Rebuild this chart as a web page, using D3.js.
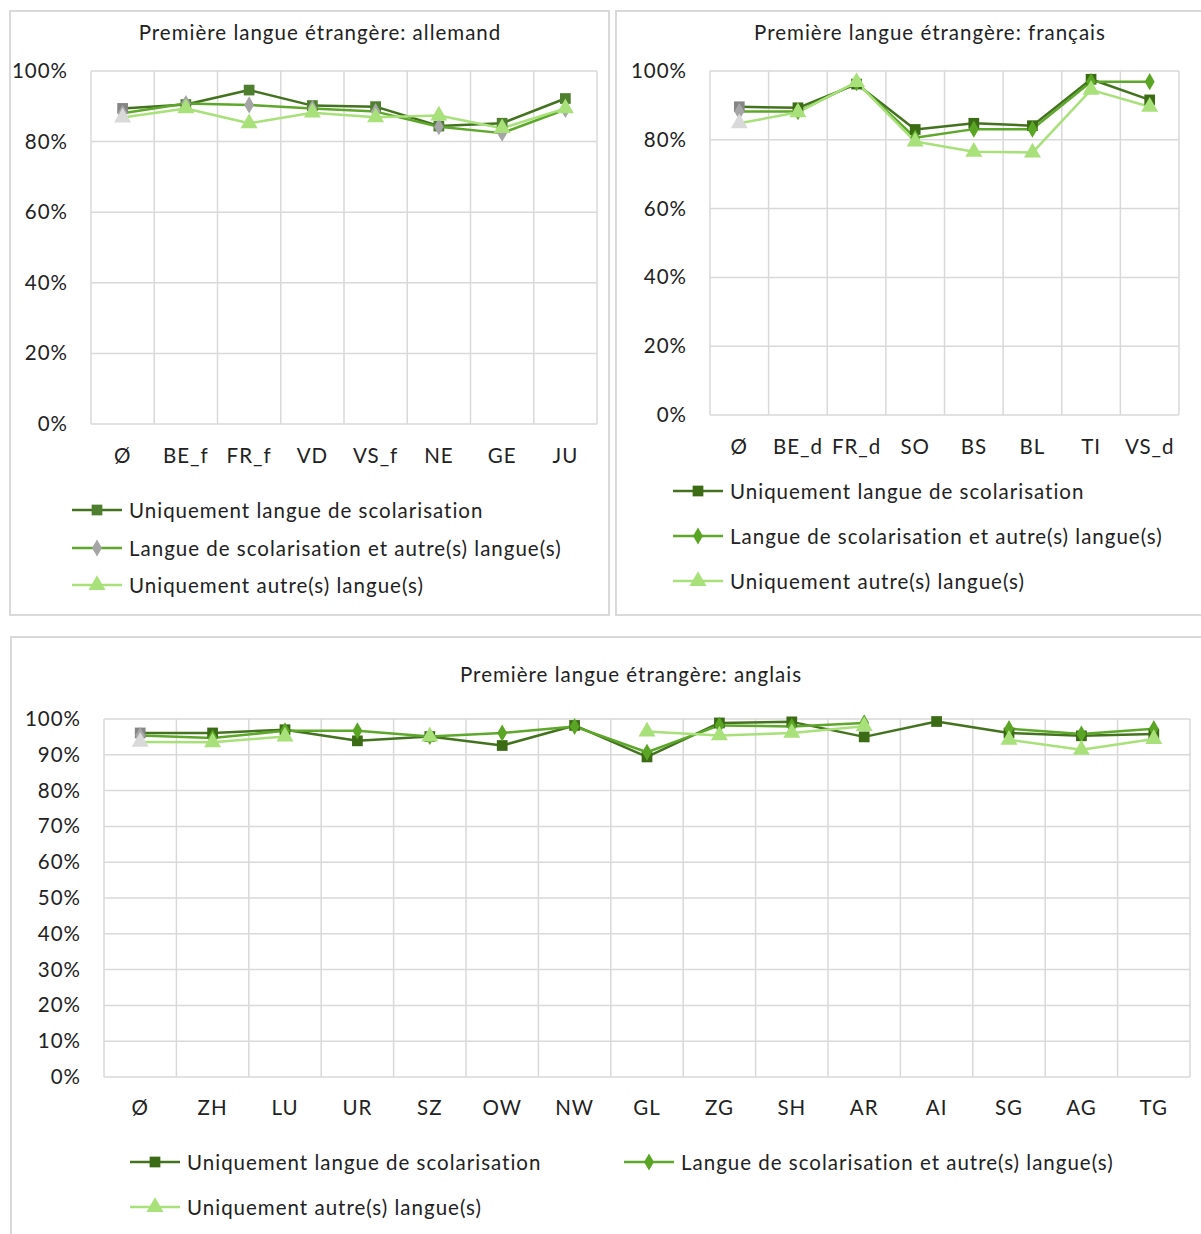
<!DOCTYPE html>
<html>
<head>
<meta charset="utf-8">
<script src="https://cdn.jsdelivr.net/npm/d3@7"></script>
<style>
  html, body { margin: 0; padding: 0; background: #ffffff; }
  svg { display: block; }
  text { font-family: Lato, "Noto Sans", sans-serif; fill: #222222; letter-spacing: 1px; }
</style>
</head>
<body>
<svg id="chart" width="1201" height="1234"></svg>
<script>
// Legend entries shared by the three panels
const seriesNames = [
  "Uniquement langue de scolarisation",
  "Langue de scolarisation et autre(s) langue(s)",
  "Uniquement autre(s) langue(s)"
];

// Panel 1 – first foreign language: German
const titleDe = "Première langue étrangère: allemand";
const cantonsDe = ["Ø", "BE_f", "FR_f", "VD", "VS_f", "NE", "GE", "JU"];
const deOnlySchool = [89.4, 90.5, 94.6, 90.2, 89.9, 84.4, 85.2, 92.2];
const deSchoolOther = [88.0, 90.8, 90.4, 89.4, 88.5, 84.2, 82.4, 89.1];
const deOnlyOther = [86.8, 89.4, 85.2, 88.2, 86.9, 87.4, 83.8, 89.4];
const ticksDe = [0, 20, 40, 60, 80, 100];

// Panel 2 – first foreign language: French
const titleFr = "Première langue étrangère: français";
const cantonsFr = ["Ø", "BE_d", "FR_d", "SO", "BS", "BL", "TI", "VS_d"];
const frOnlySchool = [89.6, 89.3, 96.2, 83.0, 84.8, 84.1, 97.6, 91.6];
const frSchoolOther = [88.2, 88.2, 96.6, 80.6, 83.1, 83.1, 96.9, 96.9];
const frOnlyOther = [84.8, 88.0, 96.8, 79.5, 76.5, 76.3, 94.5, 89.6];
const ticksFr = [0, 20, 40, 60, 80, 100];

// Panel 3 – first foreign language: English (null = no value)
const titleEn = "Première langue étrangère: anglais";
const cantonsEn = ["Ø", "ZH", "LU", "UR", "SZ", "OW", "NW", "GL", "ZG", "SH", "AR", "AI", "SG", "AG", "TG"];
const enOnlySchool = [96.1, 96.1, 97.0, 93.9, 95.1, 92.6, 98.2, 89.4, 98.9, 99.2, 95.0, 99.3, 96.1, 95.3, 95.8];
const enSchoolOther = [95.4, 94.7, 96.7, 96.7, 95.1, 96.1, 97.9, 90.7, 98.2, 97.9, 98.9, null, 97.3, 95.8, 97.3];
const enOnlyOther = [93.6, 93.5, 95.1, null, 95.1, null, null, 96.5, 95.4, 96.1, 98.0, null, 94.2, 91.4, 94.4];
const ticksEn = [0, 10, 20, 30, 40, 50, 60, 70, 80, 90, 100];

const svg = d3.select("#chart");
const GRID = "#d9d9d9";
const FONT_SIZE = "20.5px";
const LINE_COLORS = ["#43731f", "#5da82a", "#a8e07a"];
const MARKER_TYPES = [d3.symbolSquare, d3.symbolDiamond, d3.symbolTriangle];
const MARKER_SIZES = [115, 85, 125];
const AVG_COLORS = ["#858585", "#a5a5a5", "#d9d9d9"];

function drawPanel(cfg) {
  const g = svg.append("g");

  // panel frame
  g.append("rect")
    .attr("x", cfg.frame[0]).attr("y", cfg.frame[1])
    .attr("width", cfg.frame[2]).attr("height", cfg.frame[3])
    .attr("fill", "none").attr("stroke", GRID).attr("stroke-width", 2);

  g.append("text")
    .attr("x", cfg.titleX).attr("y", cfg.titleY)
    .attr("text-anchor", "middle").attr("dominant-baseline", "central")
    .style("font-size", FONT_SIZE)
    .text(cfg.title);

  const x = d3.scaleBand().domain(cfg.categories).range([cfg.plot[0], cfg.plot[1]]);
  const y = d3.scaleLinear().domain([0, 100]).range([cfg.plot[3], cfg.plot[2]]);

  // horizontal gridlines
  g.append("g").selectAll("line").data(cfg.ticks).join("line")
    .attr("x1", cfg.plot[0]).attr("x2", cfg.plot[1])
    .attr("y1", d => y(d)).attr("y2", d => y(d))
    .attr("stroke", GRID).attr("stroke-width", 1.5);

  // vertical gridlines at category boundaries
  const bounds = cfg.categories.map(c => x(c)).concat([x.range()[1]]);
  g.append("g").selectAll("line").data(bounds).join("line")
    .attr("x1", d => d).attr("x2", d => d)
    .attr("y1", cfg.plot[2]).attr("y2", cfg.plot[3])
    .attr("stroke", GRID).attr("stroke-width", 1.5);

  // y axis labels
  const yAxis = d3.axisLeft(y).tickValues(cfg.ticks).tickFormat(d => d + "%").tickSize(0).tickPadding(0);
  const ya = g.append("g").attr("transform", `translate(${cfg.yLabelX},0)`).call(yAxis);
  ya.select(".domain").remove();
  ya.selectAll("text").style("font-size", FONT_SIZE).attr("font-family", null).attr("fill", null);

  // x axis labels
  const xAxis = d3.axisBottom(x).tickSize(0).tickPadding(0);
  const xa = g.append("g").attr("transform", `translate(0,${cfg.xLabelY})`).call(xAxis);
  xa.select(".domain").remove();
  xa.selectAll("text").style("font-size", FONT_SIZE).attr("dy", "0.35em").attr("y", 0)
    .attr("font-family", null).attr("fill", null);

  const cx = d => x(d) + x.bandwidth() / 2;

  cfg.series.forEach((vals, si) => {
    const pts = vals.map((v, i) => ({ c: cfg.categories[i], v, i }));
    const line = d3.line().defined(d => d.v !== null).x(d => cx(d.c)).y(d => y(d.v));
    g.append("path").datum(pts)
      .attr("d", line).attr("fill", "none")
      .attr("stroke", LINE_COLORS[si]).attr("stroke-width", 2.5)
      .attr("stroke-linejoin", "round");
  });

  cfg.series.forEach((vals, si) => {
    const pts = vals.map((v, i) => ({ c: cfg.categories[i], v, i })).filter(d => d.v !== null);
    g.append("g").selectAll("path").data(pts).join("path")
      .attr("transform", d => `translate(${cx(d.c)},${y(d.v)})`)
      .attr("d", d3.symbol().type(MARKER_TYPES[si]).size(MARKER_SIZES[si]))
      .attr("fill", d => d.i === 0 ? AVG_COLORS[si] : cfg.markerColors[si]);
  });

  // legend
  cfg.legend.forEach((pos, si) => {
    const lg = g.append("g").attr("transform", `translate(${pos[0]},${pos[1]})`);
    lg.append("line").attr("x1", 0).attr("x2", 50).attr("y1", 0).attr("y2", 0)
      .attr("stroke", LINE_COLORS[si]).attr("stroke-width", 2.5);
    lg.append("path").attr("transform", "translate(25,0)")
      .attr("d", d3.symbol().type(MARKER_TYPES[si]).size(MARKER_SIZES[si]))
      .attr("fill", cfg.markerColors[si]);
    lg.append("text").attr("x", 57).attr("y", 0).attr("dominant-baseline", "central")
      .style("font-size", FONT_SIZE).text(seriesNames[si]);
  });
}

drawPanel({
  frame: [10, 11, 599, 604],
  title: titleDe, titleX: 320, titleY: 32,
  categories: cantonsDe, ticks: ticksDe,
  series: [deOnlySchool, deSchoolOther, deOnlyOther],
  plot: [91, 597, 71, 424],
  yLabelX: 68, xLabelY: 456,
  markerColors: ["#4e7f2e", "#a5a5a5", "#a8e07a"],
  legend: [[72, 510], [72, 548], [72, 585]]
});

drawPanel({
  frame: [616, 11, 620, 604],
  title: titleFr, titleX: 930, titleY: 32,
  categories: cantonsFr, ticks: ticksFr,
  series: [frOnlySchool, frSchoolOther, frOnlyOther],
  plot: [710, 1179, 71, 415],
  yLabelX: 687, xLabelY: 447,
  markerColors: ["#3b6b14", "#5aa524", "#a8e07a"],
  legend: [[673, 491], [673, 536], [673, 581]]
});

drawPanel({
  frame: [11, 637, 1220, 620],
  title: titleEn, titleX: 631, titleY: 674,
  categories: cantonsEn, ticks: ticksEn,
  series: [enOnlySchool, enSchoolOther, enOnlyOther],
  plot: [104, 1190, 719, 1077],
  yLabelX: 81, xLabelY: 1108,
  markerColors: ["#3b6b14", "#5aa524", "#a8e07a"],
  legend: [[130, 1162], [624, 1162], [130, 1207]]
});
</script>
</body>
</html>
